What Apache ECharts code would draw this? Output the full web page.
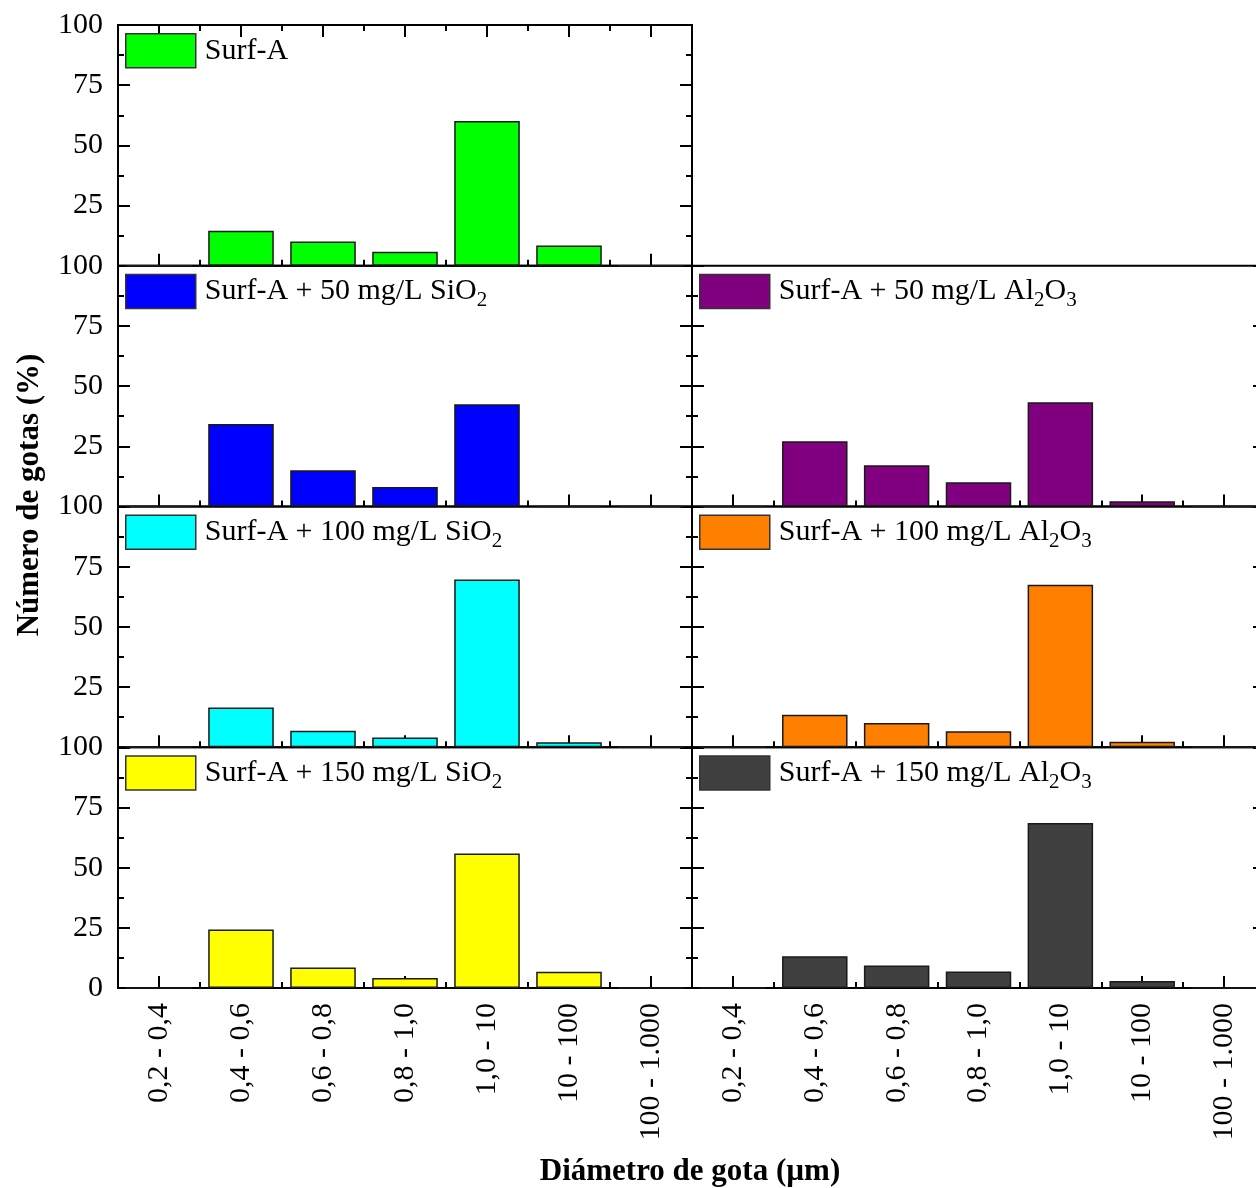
<!DOCTYPE html>
<html>
<head>
<meta charset="utf-8">
<script src="https://cdn.jsdelivr.net/npm/echarts@6/dist/echarts.min.js"></script>
<style>
html,body{margin:0;padding:0;background:#fff;overflow:hidden;}
#chart{width:1270px;height:1188px;}
</style>
</head>
<body>
<div id="chart"></div>
<script>
// ---- data ----
const categories = ['0,2 - 0,4','0,4 - 0,6','0,6 - 0,8','0,8 - 1,0','1,0 - 10','10 - 100','100 - 1.000'];
const yTicks = [0, 25, 50, 75, 100];
const seriesNames = [
  'Surf-A',
  'Surf-A + 50 mg/L SiO2',
  'Surf-A + 50 mg/L Al2O3',
  'Surf-A + 100 mg/L SiO2',
  'Surf-A + 100 mg/L Al2O3',
  'Surf-A + 150 mg/L SiO2',
  'Surf-A + 150 mg/L Al2O3'
];
const surfA   = [0, 14.5, 10.1, 5.8, 60.1, 8.4, 0];
const si50    = [0, 34.3, 15.1, 8.1, 42.5, 0, 0];
const al50    = [0, 27.1, 17.1, 10.1, 43.3, 2.2, 0];
const si100   = [0, 16.5, 6.9, 4.1, 69.7, 2.1, 0];
const al100   = [0, 13.5, 10.1, 6.6, 67.5, 2.3, 0];
const si150   = [0, 24.3, 8.5, 4.2, 55.9, 6.7, 0];
const al150   = [0, 13.2, 9.3, 6.9, 68.5, 2.9, 0];
const seriesData = [surfA, si50, al50, si100, al100, si150, al150];
const colors = ['#00FF00', '#0000FF', '#800080', '#00FFFF', '#FF8000', '#FFFF00', '#404040'];

// ---- layout ----
const FONT = 'Liberation Serif';
const colLeft = [118, 692];
const colWidth = [574, 573];
const rowTop = [25, 265.75, 506.5, 747.25];
const rowH = 240.75;
// panel -> [row, col]
const panelPos = [[0,0],[1,0],[1,1],[2,0],[2,1],[3,0],[3,1]];

function legendFmt(name) {
  const parts = name.split(/(?<=[A-Za-z])(\d)/);
  let s = '';
  parts.forEach((p, i) => {
    if (!p) return;
    s += (i % 2 === 1) ? '{s|' + p + '}' : '{n|' + p + '}';
  });
  return s;
}

const grid = [], xAxis = [], yAxis = [], series = [], legend = [];
panelPos.forEach((rc, i) => {
  const [r, c] = rc;
  grid.push({
    left: colLeft[c], top: rowTop[r], width: colWidth[c], height: rowH,
    show: true, borderColor: '#000', borderWidth: 2, backgroundColor: 'transparent'
  });
  const bottomRow = (r === 3);
  const xi = xAxis.length;
  xAxis.push({
    type: 'category', gridIndex: i, data: categories, position: 'bottom',
    axisLine: {show: false},
    axisTick: {show: true, inside: true, alignWithLabel: true, length: 12, interval: 0,
      lineStyle: {color: '#000', width: 2}},
    axisLabel: {show: bottomRow, rotate: 90, interval: 0, margin: 15,
      fontFamily: FONT, fontSize: 30, color: '#000'},
    splitLine: {show: false}
  });
  xAxis.push({
    type: 'category', gridIndex: i, data: categories, position: 'bottom',
    axisLine: {show: false},
    axisTick: {show: true, inside: true, alignWithLabel: false, length: 6, interval: 0,
      lineStyle: {color: '#000', width: 2}},
    axisLabel: {show: false}, splitLine: {show: false}
  });
  if (i === 0) {
    xAxis.push({
      type: 'category', gridIndex: i, data: categories, position: 'top',
      axisLine: {show: false},
      axisTick: {show: true, inside: true, alignWithLabel: true, length: 12, interval: 0,
        lineStyle: {color: '#000', width: 2}},
      axisLabel: {show: false}, splitLine: {show: false}
    });
    xAxis.push({
      type: 'category', gridIndex: i, data: categories, position: 'top',
      axisLine: {show: false},
      axisTick: {show: true, inside: true, alignWithLabel: false, length: 6, interval: 0,
        lineStyle: {color: '#000', width: 2}},
      axisLabel: {show: false}, splitLine: {show: false}
    });
  }
  const yi = yAxis.length;
  const yCommon = {
    type: 'value', gridIndex: i, min: yTicks[0], max: yTicks[yTicks.length-1], interval: 25,
    axisLine: {show: false},
    axisTick: {show: true, inside: true, length: 12, lineStyle: {color: '#000', width: 2}},
    minorTick: {show: true, splitNumber: 2, length: 6, lineStyle: {color: '#000', width: 2}},
    splitLine: {show: false}
  };
  yAxis.push(Object.assign({}, yCommon, {
    position: 'left',
    axisLabel: {show: c === 0, showMinLabel: bottomRow, margin: 15,
      fontFamily: FONT, fontSize: 30, color: '#000'}
  }));
  yAxis.push(Object.assign({}, yCommon, {
    position: 'right', axisLabel: {show: false}
  }));
  series.push({
    type: 'bar', name: seriesNames[i], xAxisIndex: xi, yAxisIndex: yi,
    data: seriesData[i], barCategoryGap: '20%',
    itemStyle: {color: colors[i], borderColor: '#1a1a1a', borderWidth: 1.5},
    emphasis: {disabled: true}
  });
  legend.push({
    data: [seriesNames[i]], left: colLeft[c] + 7, top: rowTop[r] + 8,
    orient: 'horizontal', padding: 0, itemWidth: 70, itemHeight: 34,
    icon: 'rect', selectedMode: false,
    itemStyle: {borderColor: '#333', borderWidth: 1.5},
    formatter: legendFmt,
    textStyle: {
      padding: [0, 0, 0, 4],
      rich: {
        n: {fontFamily: FONT, fontSize: 30, color: '#000'},
        s: {fontFamily: FONT, fontSize: 21, color: '#000', padding: [18, 0, 0, 0]}
      }
    }
  });
});

const chart = echarts.init(document.getElementById('chart'));
chart.setOption({
  animation: false,
  backgroundColor: '#fff',
  grid, xAxis, yAxis, series, legend,
  graphic: [
    {type: 'text', x: 30, y: 495, rotation: Math.PI / 2,
      style: {text: 'Número de gotas (%)', fontFamily: FONT, fontWeight: 'bold', fontSize: 31,
        fill: '#000', align: 'center', verticalAlign: 'middle'}},
    {type: 'text', x: 690, y: 1172,
      style: {text: 'Diámetro de gota (µm)', fontFamily: FONT, fontWeight: 'bold', fontSize: 31,
        fill: '#000', align: 'center', verticalAlign: 'middle'}}
  ]
});
</script>
</body>
</html>
